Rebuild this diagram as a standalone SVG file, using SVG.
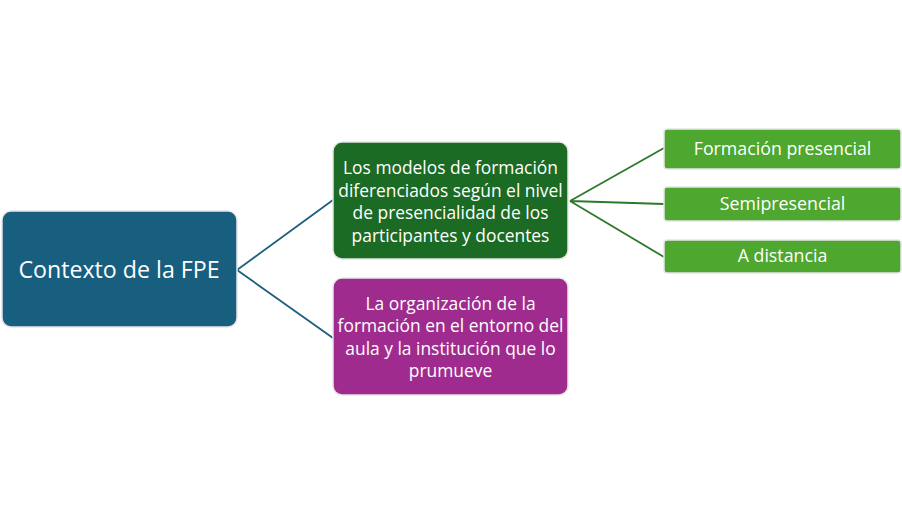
<svg xmlns="http://www.w3.org/2000/svg" width="902" height="525" viewBox="0 0 902 525">
<style>
text{font-family:"Open Sans","Liberation Sans",sans-serif;fill:#fff;text-anchor:middle}
.box{stroke:#e6e6e6;stroke-width:1.5}
.t{font-size:17.4px}
.s{font-size:17.8px}
</style>
<rect width="902" height="525" fill="#fff"/>
<g id="connectors" fill="none" stroke-width="1.8">
<path d="M237 270 L333 200 M237 270 L333 338" stroke="#1f5f7e"/>
<path d="M570 201 L664 148 M570 201 L664 204 M570 201 L664 257" stroke="#2b7a2b"/>
</g>
<g id="root"><rect class="box" x="2" y="211" width="235" height="116" rx="9" fill="#175e7f"/>
<text x="119" y="277.5" font-size="23.2">Contexto de la FPE</text></g>
<g id="modelos"><rect class="box" x="333" y="142" width="235" height="117" rx="9" fill="#1b6b24"/>
<text class="t" x="450.5" y="174">Los modelos de formación</text>
<text class="t" x="450.5" y="196.5">diferenciados según el nivel</text>
<text class="t" x="450.5" y="219">de presencialidad de los</text>
<text class="t" x="450.5" y="241.5">participantes y docentes</text></g>
<g id="organizacion"><rect class="box" x="333" y="278" width="235" height="117" rx="9" fill="#a02b8e"/>
<text class="t" x="450.5" y="309.5">La organización de la</text>
<text class="t" x="450.5" y="332">formación en el entorno del</text>
<text class="t" x="450.5" y="354.5">aula y la institución que lo</text>
<text class="t" x="450.5" y="377">prumueve</text></g>
<g id="presencial"><rect class="box" x="664" y="129" width="237" height="40" rx="3" fill="#4ea72e"/>
<text class="s" x="782.5" y="154.5">Formación presencial</text></g>
<g id="semipresencial"><rect class="box" x="664" y="187" width="237" height="34" rx="3" fill="#4ea72e"/>
<text class="s" x="782.5" y="210">Semipresencial</text></g>
<g id="distancia"><rect class="box" x="664" y="240" width="237" height="33" rx="3" fill="#4ea72e"/>
<text class="s" x="782.5" y="262">A distancia</text></g>
</svg>
